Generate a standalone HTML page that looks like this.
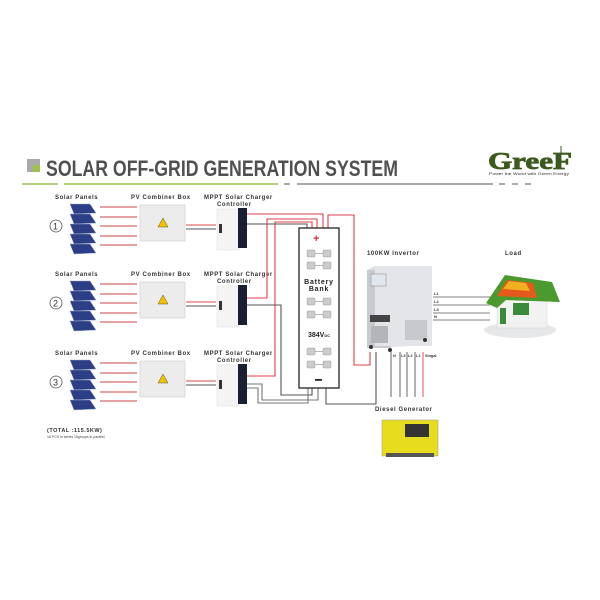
<!DOCTYPE html>
<html><head><meta charset="utf-8"><style>
html,body{margin:0;padding:0;background:#fff}
svg{display:block;font-family:"Liberation Sans",sans-serif}
.lb{font-size:6px;font-weight:bold;fill:#333;letter-spacing:0.6px}
</style></head><body>
<svg width="600" height="600" viewBox="0 0 600 600">
<rect width="600" height="600" fill="#fff"/>
<!-- title -->
<rect x="27" y="159" width="13" height="13" fill="#a9a9a9"/>
<rect x="33" y="165" width="7" height="7" fill="#9dc34a"/>
<text x="46" y="176" font-size="22" font-weight="bold" fill="#505050" textLength="352" lengthAdjust="spacingAndGlyphs">SOLAR OFF-GRID GENERATION SYSTEM</text>
<rect x="22" y="183" width="36" height="2" fill="#b5cf7a"/>
<rect x="64" y="183" width="214" height="2" fill="#b5cf7a"/>
<rect x="284" y="183" width="6" height="2" fill="#aaa"/>
<rect x="297" y="183" width="196" height="2" fill="#aaa"/>
<rect x="499" y="183" width="6" height="2" fill="#aaa"/>
<rect x="512" y="183" width="6" height="2" fill="#aaa"/>
<rect x="525" y="183" width="6" height="2" fill="#aaa"/>
<!-- logo -->
<text x="488" y="169" font-size="24" font-weight="bold" font-family="Liberation Serif,serif" fill="#3d5a1e" stroke="#3d5a1e" stroke-width="0.8" textLength="84" lengthAdjust="spacingAndGlyphs">GreeF</text>
<line x1="561" y1="146" x2="561" y2="155" stroke="#3d5a1e" stroke-width="1"/>
<text x="489" y="175" font-size="3.5" fill="#333" textLength="80" lengthAdjust="spacingAndGlyphs">Power the World with Green Energy</text>

<!-- rows -->
<g>
<text class="lb" x="55" y="199">Solar Panels</text>
<text class="lb" x="131" y="199">PV Combiner Box</text>
<text class="lb" x="204" y="199">MPPT Solar Charger</text>
<text class="lb" x="217" y="206">Controller</text>
<circle cx="56" cy="226" r="6" fill="#fff" stroke="#555" stroke-width="0.8"/>
<text x="53" y="229.5" font-size="9" fill="#333">1</text>
</g>
<g transform="translate(0,77)">
<text class="lb" x="55" y="199">Solar Panels</text>
<text class="lb" x="131" y="199">PV Combiner Box</text>
<text class="lb" x="204" y="199">MPPT Solar Charger</text>
<text class="lb" x="217" y="206">Controller</text>
<circle cx="56" cy="226" r="6" fill="#fff" stroke="#555" stroke-width="0.8"/>
<text x="53" y="229.5" font-size="9" fill="#333">2</text>
</g>
<g transform="translate(0,156)">
<text class="lb" x="55" y="199">Solar Panels</text>
<text class="lb" x="131" y="199">PV Combiner Box</text>
<text class="lb" x="204" y="199">MPPT Solar Charger</text>
<text class="lb" x="217" y="206">Controller</text>
<circle cx="56" cy="226" r="6" fill="#fff" stroke="#555" stroke-width="0.8"/>
<text x="53" y="229.5" font-size="9" fill="#333">3</text>
</g>
<defs>
<g id="row">
<g fill="#2c3f86" stroke="#9aa6c8" stroke-width="0.5">
<polygon points="70,204 90,204 96,213 74,214"/>
<polygon points="70,214 90,214 96,223 74,224"/>
<polygon points="70,224 90,224 96,233 74,234"/>
<polygon points="70,234 90,234 96,243 74,244"/>
<polygon points="70,244 90,244 96,253 74,254"/>
</g>
<g stroke="#d86a6a" stroke-width="1.2">
<line x1="100" y1="207" x2="137" y2="207"/><line x1="100" y1="217" x2="137" y2="217"/>
<line x1="100" y1="226" x2="137" y2="226"/><line x1="100" y1="236" x2="137" y2="236"/>
<line x1="100" y1="245" x2="137" y2="245"/>
</g>
<rect x="140" y="205" width="45" height="36" fill="#ececec" stroke="#ccc" stroke-width="0.6"/>
<polygon points="163,218 158,227 168,227" fill="#f2c200" stroke="#333" stroke-width="0.4"/>
<line x1="186" y1="225" x2="216" y2="225" stroke="#d84a4a" stroke-width="1"/>
<line x1="186" y1="229" x2="216" y2="229" stroke="#555" stroke-width="1"/>
<rect x="217" y="209" width="22" height="41" fill="#f4f4f4" stroke="#ddd" stroke-width="0.5"/>
<rect x="238" y="208" width="9" height="40" fill="#1a1f33"/>
<rect x="219" y="224" width="3" height="9" fill="#333"/>
</g>
</defs>
<use href="#row"/>
<use href="#row" transform="translate(0,77)"/>
<use href="#row" transform="translate(0,156)"/>

<text x="47" y="432" font-size="5.5" font-weight="bold" fill="#333" letter-spacing="0.5">(TOTAL :115.5KW)</text>
<text x="47" y="438" font-size="3.5" fill="#444">16 PCS in series 15groups in parallel</text>

<!-- wires -->
<g fill="none" stroke-width="1.1">
<polyline points="247,214 323,214 323,228" stroke="#e0404a"/>
<polyline points="247,298 267,298 267,219 317,219 317,228" stroke="#e0404a"/>
<polyline points="247,376 275,376 275,222 312,222 312,228" stroke="#e0404a"/>
<polyline points="247,224 307,224 307,228" stroke="#555"/>
<polyline points="328,228 328,215 354,215 354,365 370,365 370,352" stroke="#e0404a"/>
<polyline points="247,305 281,305 281,395 312,395 312,388" stroke="#555"/>
<polyline points="247,384 262,384 262,400 318,400 318,388" stroke="#777"/>
<polyline points="247,388 258,388 258,403 308,403 308,388" stroke="#777"/>
<polyline points="326,388 326,404 376,404 376,352" stroke="#555"/>
</g>

<!-- battery bank -->
<rect x="299" y="228" width="40" height="160" fill="#fff" stroke="#222" stroke-width="1.3"/>
<text x="313" y="242" font-size="11" font-weight="bold" fill="#e0303a">+</text>
<defs><g id="bat"><rect x="307" y="0" width="8" height="7" rx="1" fill="#ccc" stroke="#888" stroke-width="0.4"/><rect x="323" y="0" width="8" height="7" rx="1" fill="#ccc" stroke="#888" stroke-width="0.4"/><line x1="315" y1="3.5" x2="323" y2="3.5" stroke="#888" stroke-width="0.6"/></g></defs>
<use href="#bat" y="250"/><use href="#bat" y="262"/>
<use href="#bat" y="298"/><use href="#bat" y="311"/>
<use href="#bat" y="348"/><use href="#bat" y="361"/>
<text x="319" y="284" font-size="7" font-weight="bold" fill="#222" text-anchor="middle" letter-spacing="0.8">Battery</text>
<text x="319" y="291" font-size="7" font-weight="bold" fill="#222" text-anchor="middle" letter-spacing="0.8">Bank</text>
<text x="308" y="337" font-size="7" font-weight="bold" fill="#222">384V<tspan font-size="4">DC</tspan></text>
<rect x="315" y="379" width="7" height="1.8" fill="#222"/>

<!-- inverter -->
<text x="367" y="255" class="lb" font-size="6.5">100KW Invertor</text>
<polygon points="367,270 375,266 432,266 432,345 367,348" fill="#dcdde0"/>
<rect x="367" y="270" width="24" height="78" fill="#c9cacd"/>
<rect x="375" y="266" width="57" height="80" fill="#e4e5e8"/>
<rect x="371" y="274" width="15" height="12" fill="#dfe6ee" stroke="#888" stroke-width="0.5"/>
<rect x="370" y="315" width="20" height="7" fill="#444"/>
<rect x="371" y="326" width="17" height="17" fill="#b4b5b8"/>
<rect x="405" y="320" width="22" height="20" fill="#c8c9cc"/>
<circle cx="371" cy="347" r="2" fill="#333"/><circle cx="390" cy="350" r="2" fill="#333"/><circle cx="425" cy="340" r="2" fill="#333"/>

<!-- load lines -->
<g stroke="#555" stroke-width="0.8">
<line x1="433" y1="297" x2="490" y2="297"/><line x1="433" y1="305" x2="490" y2="305"/>
<line x1="433" y1="313" x2="490" y2="313"/><line x1="433" y1="320" x2="490" y2="320"/>
</g>
<g font-size="4" fill="#333" font-weight="bold"><text x="434" y="295">L1</text><text x="434" y="303">L2</text><text x="434" y="311">L3</text><text x="434" y="318">N</text></g>
<text x="505" y="255" class="lb" font-size="6.5">Load</text>
<ellipse cx="520" cy="330" rx="36" ry="8" fill="#e6e7e9"/>
<rect x="497" y="294" width="50" height="34" fill="#f2f2f2" stroke="#ccc" stroke-width="0.4"/>
<polygon points="486,303 505,275 552,282 560,302 506,300 497,308" fill="#4b9a2f"/>
<polygon points="497,296 507,280 533,283 537,298" fill="#e45a1a"/>
<polygon points="503,289 509,281 526,283 530,291" fill="#f0b020"/>
<rect x="513" y="303" width="16" height="12" fill="#3a8a3a"/>
<rect x="500" y="308" width="6" height="16" fill="#3a8a3a"/>

<!-- generator lines -->
<g stroke-width="0.9" fill="none">
<line x1="391" y1="352" x2="391" y2="397" stroke="#555"/>
<line x1="400" y1="352" x2="400" y2="397" stroke="#555"/>
<line x1="407" y1="352" x2="407" y2="397" stroke="#555"/>
<line x1="415" y1="352" x2="415" y2="397" stroke="#555"/>
<line x1="423" y1="352" x2="423" y2="397" stroke="#e0404a"/>
</g>
<g font-size="3.8" fill="#333" font-weight="bold"><text x="393" y="357">N</text><text x="401" y="357">L3</text><text x="408" y="357">L2</text><text x="416" y="357">L1</text><text x="425" y="357">Singal</text></g>
<text x="375" y="411" class="lb" font-size="6.5">Diesel Generator</text>
<rect x="382" y="420" width="56" height="36" fill="#e8dc1e" stroke="#999" stroke-width="0.5"/>
<rect x="405" y="424" width="24" height="13" fill="#333"/>
<rect x="386" y="453" width="48" height="4" fill="#555"/>
</svg>
</body></html>
